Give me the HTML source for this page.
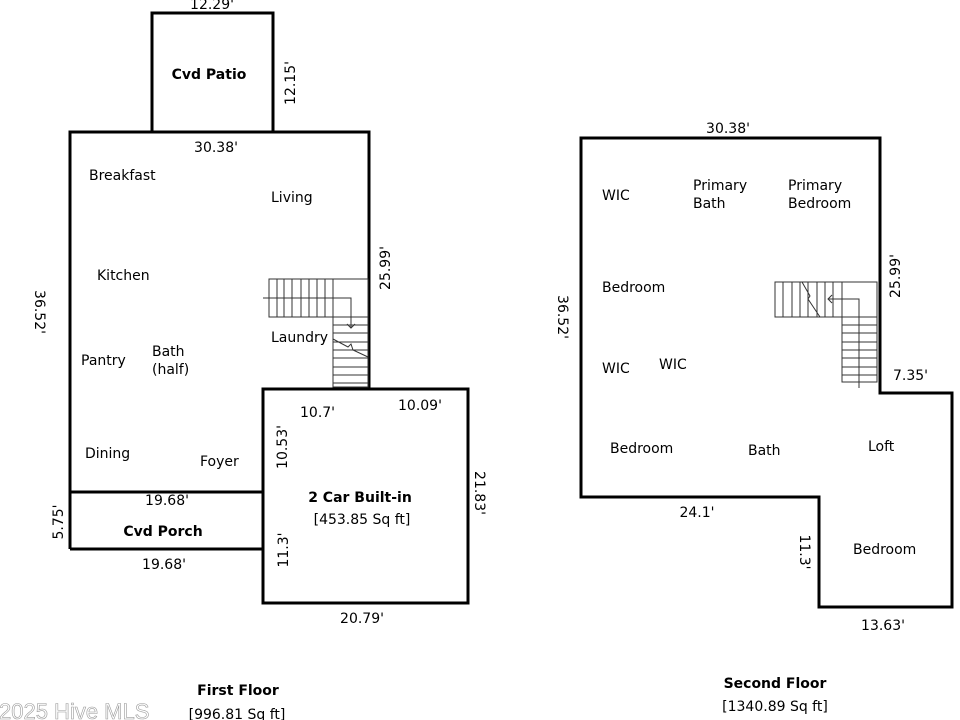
<!DOCTYPE html>
<html><head><meta charset="utf-8"><style>
html,body{margin:0;padding:0;background:#fff;}
svg{display:block;}
text{font-family:"DejaVu Sans","Liberation Sans",sans-serif;font-size:14px;fill:#000;}
.b{font-weight:bold;}
.w{fill:none;stroke:#000;stroke-width:3;}
.s{fill:none;stroke:#333;stroke-width:1;}
</style></head><body>
<svg width="960" height="720" viewBox="0 0 960 720" xmlns="http://www.w3.org/2000/svg">
<rect width="960" height="720" fill="#fff"/>
<!-- First floor walls -->
<rect class="w" x="152" y="13" width="121" height="119"/>
<polyline class="w" points="70,549 70,132 369,132 369,389"/>
<rect class="w" x="263" y="389" width="205" height="214"/>
<line class="w" x1="70" y1="492" x2="263" y2="492"/>
<line class="w" x1="70" y1="549" x2="263" y2="549"/>
<!-- First floor stairs -->
<rect class="s" x="269" y="279" width="99" height="38"/>
<rect class="s" x="333" y="317" width="35" height="70"/>
<g class="s">
<line x1="277" y1="279" x2="277" y2="317"/><line x1="284" y1="279" x2="284" y2="317"/>
<line x1="292" y1="279" x2="292" y2="317"/><line x1="301" y1="279" x2="301" y2="317"/>
<line x1="309" y1="279" x2="309" y2="317"/><line x1="317" y1="279" x2="317" y2="317"/>
<line x1="325" y1="279" x2="325" y2="317"/><line x1="333" y1="279" x2="333" y2="317"/>
<line x1="333" y1="325" x2="368" y2="325"/><line x1="333" y1="333" x2="368" y2="333"/>
<line x1="333" y1="342" x2="368" y2="342"/><line x1="333" y1="350" x2="368" y2="350"/>
<line x1="333" y1="358" x2="368" y2="358"/><line x1="333" y1="367" x2="368" y2="367"/>
<line x1="333" y1="375" x2="368" y2="375"/><line x1="333" y1="383" x2="368" y2="383"/>
<polyline points="263,298 351,298 351,328"/>
<polyline points="347,324 351,328 355,324"/>
<polyline points="333,339 348,347 351,344 353,350 368,357"/>
</g>
<!-- Second floor walls -->
<polygon class="w" points="581,138 880,138 880,393 952,393 952,607 819,607 819,497 581,497"/>
<!-- Second floor stairs -->
<rect class="s" x="775" y="282" width="102" height="35"/>
<rect class="s" x="842" y="317" width="35" height="65"/>
<g class="s">
<line x1="783" y1="282" x2="783" y2="317"/><line x1="792" y1="282" x2="792" y2="317"/>
<line x1="800" y1="282" x2="800" y2="317"/><line x1="808" y1="282" x2="808" y2="317"/>
<line x1="817" y1="282" x2="817" y2="317"/><line x1="825" y1="282" x2="825" y2="317"/>
<line x1="833" y1="282" x2="833" y2="317"/><line x1="842" y1="282" x2="842" y2="317"/>
<line x1="842" y1="325" x2="877" y2="325"/><line x1="842" y1="333" x2="877" y2="333"/>
<line x1="842" y1="342" x2="877" y2="342"/><line x1="842" y1="350" x2="877" y2="350"/>
<line x1="842" y1="358" x2="877" y2="358"/><line x1="842" y1="367" x2="877" y2="367"/>
<line x1="842" y1="375" x2="877" y2="375"/>
<polyline points="859,388 859,299 828,299"/>
<polyline points="832,295 828,299 832,303"/>
<polyline points="802,282 810,296 808,299 820,317"/>
</g>
<!-- First floor labels -->
<text x="212" y="9" text-anchor="middle">12.29'</text>
<text class="b" x="209" y="79" text-anchor="middle">Cvd Patio</text>
<text transform="translate(295,83) rotate(-90)" text-anchor="middle">12.15'</text>
<text x="216" y="152" text-anchor="middle">30.38'</text>
<text x="89" y="180">Breakfast</text>
<text x="271" y="202">Living</text>
<text x="97" y="280">Kitchen</text>
<text transform="translate(390,268) rotate(-90)" text-anchor="middle">25.99'</text>
<text transform="translate(35,312) rotate(90)" text-anchor="middle">36.52'</text>
<text x="271" y="342">Laundry</text>
<text x="81" y="365">Pantry</text>
<text x="152" y="356">Bath</text>
<text x="152" y="374">(half)</text>
<text x="300" y="417">10.7'</text>
<text x="398" y="410">10.09'</text>
<text transform="translate(287,447) rotate(-90)" text-anchor="middle">10.53'</text>
<text x="85" y="458">Dining</text>
<text x="200" y="466">Foyer</text>
<text transform="translate(475,493) rotate(90)" text-anchor="middle">21.83'</text>
<text x="167" y="505" text-anchor="middle">19.68'</text>
<text class="b" x="163" y="536" text-anchor="middle">Cvd Porch</text>
<text x="164" y="569" text-anchor="middle">19.68'</text>
<text transform="translate(63,522) rotate(-90)" text-anchor="middle">5.75'</text>
<text class="b" x="360" y="502" text-anchor="middle">2 Car Built-in</text>
<text x="362" y="524" text-anchor="middle">[453.85 Sq ft]</text>
<text transform="translate(288,550) rotate(-90)" text-anchor="middle">11.3'</text>
<text x="362" y="623" text-anchor="middle">20.79'</text>
<text class="b" x="238" y="695" text-anchor="middle">First Floor</text>
<text x="237" y="719" text-anchor="middle">[996.81 Sq ft]</text>
<!-- Second floor labels -->
<text x="728" y="133" text-anchor="middle">30.38'</text>
<text x="602" y="200">WIC</text>
<text x="693" y="190">Primary</text>
<text x="693" y="208">Bath</text>
<text x="788" y="190">Primary</text>
<text x="788" y="208">Bedroom</text>
<text transform="translate(900,276) rotate(-90)" text-anchor="middle">25.99'</text>
<text x="602" y="292">Bedroom</text>
<text transform="translate(558,317) rotate(90)" text-anchor="middle">36.52'</text>
<text x="602" y="373">WIC</text>
<text x="659" y="369">WIC</text>
<text x="893" y="380">7.35'</text>
<text x="610" y="453">Bedroom</text>
<text x="748" y="455">Bath</text>
<text x="868" y="451">Loft</text>
<text x="697" y="517" text-anchor="middle">24.1'</text>
<text transform="translate(800,552) rotate(90)" text-anchor="middle">11.3'</text>
<text x="853" y="554">Bedroom</text>
<text x="883" y="630" text-anchor="middle">13.63'</text>
<text class="b" x="775" y="688" text-anchor="middle">Second Floor</text>
<text x="775" y="711" text-anchor="middle">[1340.89 Sq ft]</text>
<!-- Watermark -->
<text x="-1" y="719" style="font-family:'Liberation Sans',sans-serif;font-size:22px;fill:#fff;stroke:#9a9a9a;stroke-width:0.6;">2025 Hive MLS</text>
</svg>
</body></html>
